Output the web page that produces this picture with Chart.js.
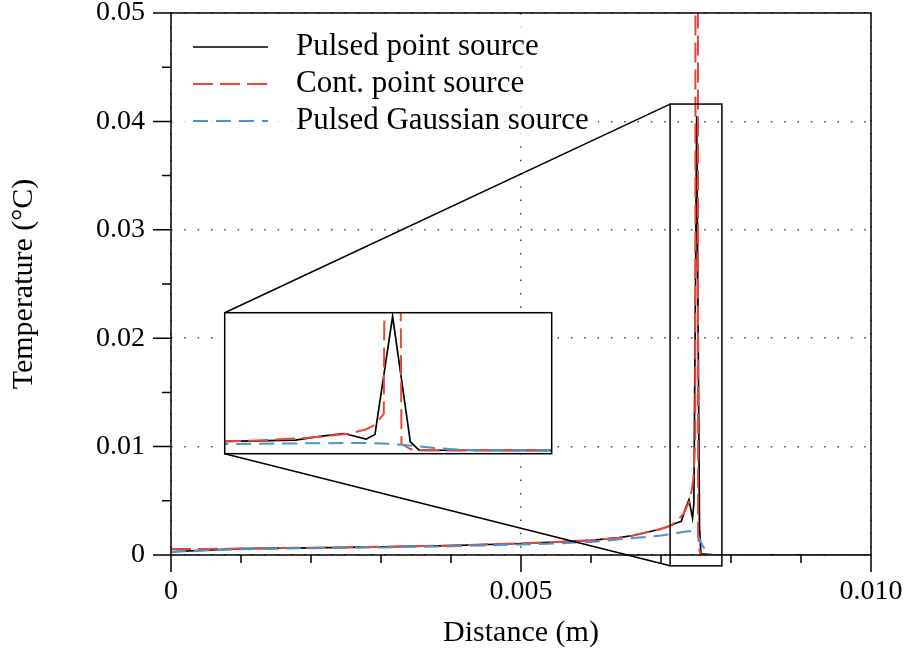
<!DOCTYPE html>
<html>
<head>
<meta charset="utf-8">
<script src="https://cdn.jsdelivr.net/npm/chart.js@4.4.1/dist/chart.umd.min.js"></script>
<style>
  html, body { margin: 0; padding: 0; background: #fff; }
  #wrap { position: relative; width: 907px; height: 653px; }
  #main { position: absolute; left: 0; top: 0; }
  #inset { position: absolute; left: 222px; top: 310px; }
</style>
</head>
<body>
<div id="wrap">
  <canvas id="main" width="907" height="653"></canvas>
  <canvas id="inset" width="333" height="147"></canvas>
</div>
<script>
const seriesNames = ['Pulsed point source', 'Cont. point source', 'Pulsed Gaussian source'];

const pulsedX = [0, 0.0005, 0.001, 0.002, 0.003, 0.004, 0.005, 0.0055, 0.006, 0.0064, 0.0066, 0.0068, 0.0070,
    0.00713, 0.0072, 0.00729, 0.00735, 0.0074, 0.00745, 0.00747, 0.00751, 0.00755, 0.00757, 0.0078, 0.01];
const pulsedY = [0.0003, 0.00045, 0.00058, 0.00066, 0.00075, 0.00087, 0.00106, 0.0012, 0.00135, 0.0016, 0.0018, 0.0021, 0.0024,
    0.0027, 0.0029, 0.0031, 0.0043, 0.0051, 0.0034, 0.0048, 0.0405, 0.0026, 0.0001, 0, 0];

const contX = [0, 0.0005, 0.001, 0.002, 0.003, 0.004, 0.005, 0.0055, 0.006, 0.0064, 0.0066, 0.0068, 0.0070,
    0.00713, 0.00722, 0.00732, 0.00741, 0.00745, 0.00747, 0.00749, 0.00751, 0.00753, 0.00755, 0.00757, 0.0078, 0.01];
const contY = [0.00055, 0.00056, 0.0006, 0.00067, 0.00076, 0.00088, 0.00107, 0.0012, 0.00136, 0.0016, 0.0018, 0.0021, 0.0024,
    0.0027, 0.0031, 0.0038, 0.0050, 0.0064, 0.0077, 0.0110, 0.5, 0.0020, 0.0004, 0, 0, 0];

const gaussX = [0, 0.0005, 0.001, 0.002, 0.003, 0.004, 0.005, 0.0055, 0.006, 0.0065, 0.007,
    0.00713, 0.0073, 0.0074, 0.00746, 0.0075, 0.00753, 0.00757, 0.0076, 0.00764, 0.00768, 0.00772, 0.0078, 0.01];
const gaussY = [0.0003, 0.00042, 0.00053, 0.00063, 0.0007, 0.0008, 0.00097, 0.00107, 0.0012, 0.0015, 0.0018,
    0.0019, 0.00212, 0.0022, 0.0022, 0.002, 0.0017, 0.0012, 0.0008, 0.0004, 0.00015, 0, 0, 0];

const xMajorTicks = [0, 0.005, 0.010];
const xTickLabels = ['0', '0.005', '0.010'];
const yMajorTicks = [0, 0.01, 0.02, 0.03, 0.04, 0.05];
const yTickLabels = ['0', '0.01', '0.02', '0.03', '0.04', '0.05'];
const xMinorStep = 0.001;
const yMinorStep = 0.005;

// zoomed window shown in the inset
const zoomX = [0.00713, 0.00787];
const zoomY = [-0.001, 0.0416];

const colors = ['#000000', '#e9473a', '#4a93cb'];
const dashes = [[], [20, 7], [15, 8]];
const widths = [1.7, 2, 2];

const FONT = 'Liberation Serif';
const inset = { left: 224.7, top: 312.7, right: 551.7, bottom: 453.7 };

function makeDatasets() {
    let xs = [pulsedX, contX, gaussX];
    let ys = [pulsedY, contY, gaussY];
    let lst = [];
    for (let i = 0; i < 3; i++) {
        lst.push({
            label: seriesNames[i],
            data: xs[i].map((x, j) => ({x: x, y: ys[i][j]})),
            borderColor: colors[i],
            borderWidth: widths[i],
            borderDash: dashes[i],
            pointRadius: 0,
            tension: 0,
            fill: false,
            order: 3 - i
        });
    }
    return lst;
}

const framePlugin = {
    id: 'frame',
    afterDraw(chart) {
        let ctx = chart.ctx;
        let a = chart.chartArea;
        let xs = chart.scales.x, ys = chart.scales.y;
        ctx.save();

        // legend box, semi transparent like matplotlib
        ctx.fillStyle = 'rgba(255,255,255,0.8)';
        ctx.fillRect(180, 24, 418, 116);

        ctx.strokeStyle = '#000';
        ctx.lineWidth = 1.5;
        ctx.strokeRect(a.left, a.top, a.right - a.left, a.bottom - a.top);

        // ticks
        ctx.beginPath();
        for (let k = 0; k <= 10; k++) {
            let px = xs.getPixelForValue(k * xMinorStep);
            let len = (k % 5 === 0) ? 17 : 8;
            ctx.moveTo(px, a.bottom); ctx.lineTo(px, a.bottom + len);
        }
        for (let k = 0; k <= 10; k++) {
            let py = ys.getPixelForValue(k * yMinorStep);
            let len = (k % 2 === 0) ? 18 : 9;
            ctx.moveTo(a.left, py); ctx.lineTo(a.left - len, py);
        }
        ctx.stroke();

        // zoom box and connectors
        let zl = xs.getPixelForValue(zoomX[0]), zr = xs.getPixelForValue(zoomX[1]);
        let zt = ys.getPixelForValue(zoomY[1]), zb = ys.getPixelForValue(zoomY[0]);
        ctx.strokeRect(zl, zt, zr - zl, zb - zt);
        ctx.beginPath();
        ctx.moveTo(zl, zt); ctx.lineTo(inset.left, inset.top);
        ctx.moveTo(zl, zb); ctx.lineTo(inset.left, inset.bottom);
        ctx.stroke();

        // legend entries
        let ds = chart.data.datasets;
        ctx.font = '31px "' + FONT + '"';
        ctx.textBaseline = 'middle';
        for (let i = 0; i < ds.length; i++) {
            let y = 47 + i * 37;
            ctx.beginPath();
            ctx.strokeStyle = ds[i].borderColor;
            ctx.lineWidth = ds[i].borderWidth;
            ctx.setLineDash(ds[i].borderDash);
            ctx.moveTo(193, y); ctx.lineTo(268, y);
            ctx.stroke();
            ctx.setLineDash([]);
            ctx.fillStyle = '#000';
            ctx.fillText(ds[i].label, 296, y);
        }
        ctx.restore();
    }
};

const tickFont = {family: FONT, size: 28};
const titleFont = {family: FONT, size: 30, lineHeight: 1.2};

new Chart(document.getElementById('main'), {
    type: 'line',
    data: {datasets: makeDatasets()},
    options: {
        responsive: false,
        animation: false,
        layout: {padding: {left: 0, top: 13, right: 36, bottom: 0}},
        plugins: {legend: {display: false}, tooltip: {enabled: false}},
        scales: {
            x: {
                type: 'linear', min: 0, max: 0.01,
                afterBuildTicks: s => { s.ticks = xMajorTicks.map(v => ({value: v})); },
                afterFit: s => { s.height = 98; s.paddingLeft = 0; s.paddingRight = 0; },
                ticks: {callback: (v, i) => xTickLabels[i], font: tickFont, color: '#000', padding: 20,
                    maxRotation: 0, autoSkip: false},
                grid: {color: '#444', lineWidth: 1.5, drawTicks: false},
                border: {display: false, dash: [1.5, 11.83]},
                title: {display: true, text: 'Distance (m)', font: titleFont, color: '#000', padding: {top: 0, bottom: 2}}
            },
            y: {
                type: 'linear', min: 0, max: 0.05,
                afterBuildTicks: s => { s.ticks = yMajorTicks.map(v => ({value: v})); },
                afterFit: s => { s.width = 171; s.paddingTop = 0; s.paddingBottom = 0; },
                ticks: {callback: (v, i) => yTickLabels[i], font: tickFont, color: '#000', padding: 26, autoSkip: false},
                grid: {color: '#444', lineWidth: 1.5, drawTicks: false},
                border: {display: false, dash: [1.5, 11.83]},
                title: {display: true, text: 'Temperature (°C)', font: titleFont, color: '#000', padding: {top: 6, bottom: 0}}
            }
        }
    },
    plugins: [framePlugin]
});

const insetPlugin = {
    id: 'insetFrame',
    beforeDraw(chart) {
        let a = chart.chartArea;
        chart.ctx.save();
        chart.ctx.fillStyle = '#fff';
        chart.ctx.fillRect(a.left, a.top, a.right - a.left, a.bottom - a.top);
        chart.ctx.restore();
    },
    afterDraw(chart) {
        let a = chart.chartArea;
        chart.ctx.save();
        chart.ctx.strokeStyle = '#000';
        chart.ctx.lineWidth = 1.5;
        chart.ctx.strokeRect(a.left, a.top, a.right - a.left, a.bottom - a.top);
        chart.ctx.restore();
    }
};

new Chart(document.getElementById('inset'), {
    type: 'line',
    data: {datasets: makeDatasets()},
    options: {
        responsive: false,
        animation: false,
        layout: {padding: {left: inset.left - 222, top: inset.top - 310, right: 333 - (inset.right - 222), bottom: 147 - (inset.bottom - 310)}},
        plugins: {legend: {display: false}, tooltip: {enabled: false}},
        scales: {
            x: {type: 'linear', min: zoomX[0], max: zoomX[1], display: false},
            y: {type: 'linear', min: zoomY[0], max: zoomY[1], display: false}
        }
    },
    plugins: [insetPlugin]
});
</script>
</body>
</html>
